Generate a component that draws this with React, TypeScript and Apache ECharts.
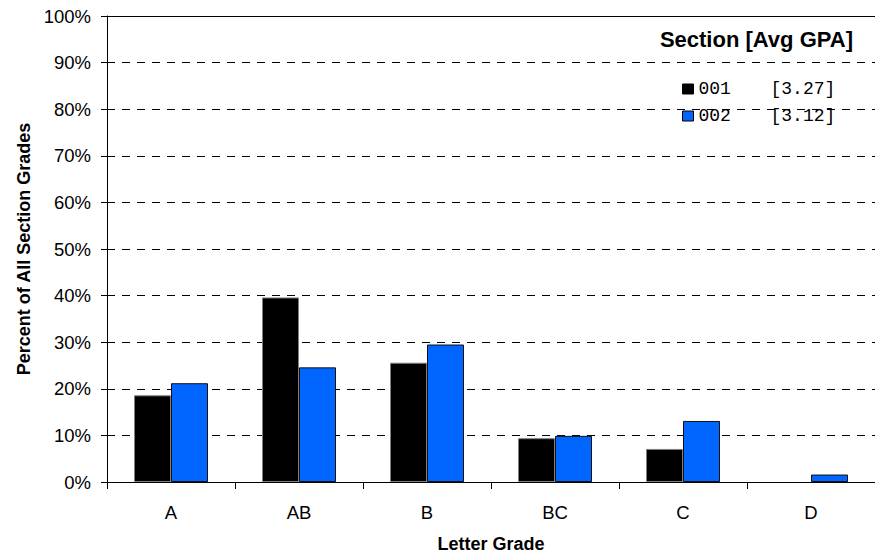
import React, { useEffect, useRef } from 'react';
import * as echarts from 'echarts';

const categories = ['A', 'AB', 'B', 'BC', 'C', 'D'];
const section001 = [18.6, 39.6, 25.6, 9.4, 7.1, 0];
const section002 = [21.2, 24.6, 29.5, 9.9, 13.1, 1.6];
const sectionNames = ['001', '002'];
const avgGpa = ['3.27', '3.12'];
const barColors = ['#000000', '#0066FF'];
const barBorders = ['#808080', '#111111'];

export default function App() {
  const ref = useRef<HTMLDivElement>(null);
  useEffect(() => {
    const chart = echarts.init(ref.current!, null, { renderer: 'svg' });
    const font = 'Liberation Sans, Arial, Helvetica, sans-serif';
    const mono = 'Liberation Mono, Courier New, monospace';
    const values = [section001, section002];
    chart.setOption({
      animation: false,
      backgroundColor: '#ffffff',
      title: {
        text: 'Section [Avg GPA]',
        right: 22,
        top: 28,
        padding: 0,
        textStyle: { fontFamily: font, fontSize: 22, fontWeight: 'bold', color: '#000' },
      },
      legend: {
        orient: 'vertical',
        left: 682,
        top: 80,
        padding: 0,
        itemWidth: 11,
        itemHeight: 10,
        itemGap: 9,
        icon: 'rect',
        data: sectionNames.map((name) => ({
          name,
          itemStyle: { borderColor: '#000', borderWidth: 1 },
        })),
        formatter: (name: string) => {
          const i = sectionNames.indexOf(name);
          return `{a|${name}}{b|[${avgGpa[i]}]}`;
        },
        textStyle: {
          fontFamily: mono,
          fontSize: 18,
          color: '#000',
          rich: {
            a: { fontFamily: mono, fontSize: 18, color: '#000', width: 72 },
            b: { fontFamily: mono, fontSize: 18, color: '#000' },
          },
        },
      },
      grid: { left: 107, right: -5, top: 16, bottom: 75 },
      xAxis: [
        {
          type: 'category',
          data: categories,
          z: 3,
          name: 'Letter Grade',
          nameLocation: 'middle',
          nameGap: 53,
          nameTextStyle: { fontFamily: font, fontSize: 18, fontWeight: 'bold', color: '#000' },
          axisLine: { show: true, lineStyle: { color: '#000', width: 1 } },
          axisTick: { show: true, alignWithLabel: false, length: 7, lineStyle: { color: '#000' } },
          axisLabel: { fontFamily: font, fontSize: 18.5, color: '#000', margin: 21 },
          splitLine: { show: false },
        },
        {
          type: 'category',
          data: categories,
          position: 'top',
          axisLine: { show: true, lineStyle: { color: '#000', width: 1 } },
          axisTick: { show: false },
          axisLabel: { show: false },
          splitLine: { show: false },
        },
      ],
      yAxis: {
        type: 'value',
        min: 0,
        max: 100,
        interval: 10,
        name: 'Percent of All Section Grades',
        nameLocation: 'middle',
        nameRotate: 90,
        nameGap: 68,
        nameTextStyle: { fontFamily: font, fontSize: 18, fontWeight: 'bold', color: '#000' },
        axisLine: { show: true, lineStyle: { color: '#000', width: 1 } },
        axisTick: { show: true, length: 6, lineStyle: { color: '#000' } },
        axisLabel: { fontFamily: font, fontSize: 18.5, color: '#000', margin: 16, formatter: '{value}%' },
        splitLine: { show: true, lineStyle: { color: '#000', width: 1, type: [8, 7] } },
      },
      series: sectionNames.map((name, i) => ({
        name,
        type: 'bar',
        data: values[i].map((v) => (v === 0 ? { value: v, itemStyle: { borderWidth: 0 } } : v)),
        barWidth: 37,
        barGap: '0%',
        itemStyle: { color: barColors[i], borderColor: barBorders[i], borderWidth: 1 },
      })),
    });
    return () => chart.dispose();
  }, []);
  return (
    <div
      ref={ref}
      style={{ position: 'fixed', left: 0, top: 0, width: 875, height: 558, overflow: 'hidden' }}
    />
  );
}
